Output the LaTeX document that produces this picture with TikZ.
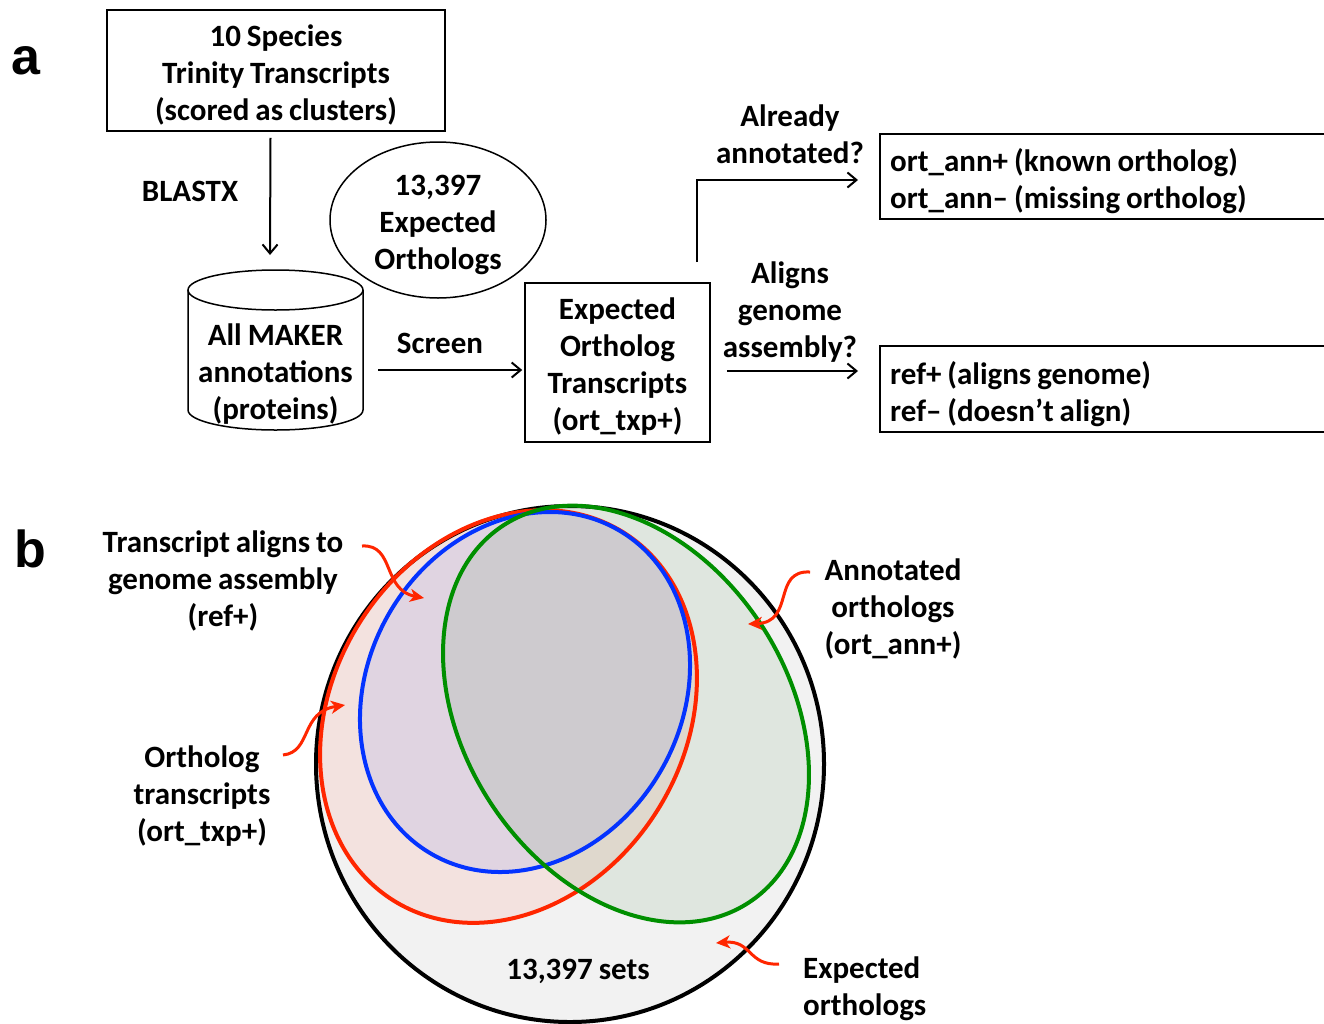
\documentclass[tikz,border=0pt]{standalone}
\usepackage{fontspec}
\setmainfont{Carlito}[WordSpace=0.85]
\newfontfamily\arialfont{Liberation Sans}
\usetikzlibrary{arrows.meta,shapes.geometric,calc}
\definecolor{vred}{RGB}{255,38,0}
\definecolor{vblue}{RGB}{4,51,255}
\definecolor{vgreen}{RGB}{0,143,0}
\definecolor{outerfill}{RGB}{242,242,242}
\definecolor{redfill}{RGB}{255,50,0}
\definecolor{greenfill}{RGB}{0,100,0}
\tikzset{
  box/.style={draw, line width=1.5pt, inner sep=0pt},
  arr/.style={line width=2pt, -{Straight Barb[length=9pt,width=15pt]}},
  rarr/.style={draw=vred, line width=3pt, -{Stealth[length=14pt,width=13pt,inset=4pt]}},
  lab/.style={align=center, inner sep=0pt},
  panel/.style={inner sep=0pt, font=\arialfont\bfseries\fontsize{52}{56}\selectfont},
  venn/.style={line width=4pt}
}
\begin{document}
\begin{tikzpicture}[x=1pt,y=-1pt, font=\fontsize{31}{37}\selectfont\bfseries]
\useasboundingbox (0,0) rectangle (1324,1023);

% ---------- panel a ----------
\node[panel] (la) at (26,61) {a};

\node[box, minimum width=338pt, minimum height=121pt] (src) at (276,70.5) {};
\node[lab] (srct) at (276,74.5) {10 Species\\Trinity Transcripts\\(scored as clusters)};

\node[draw, ellipse, line width=1.5pt, minimum width=216pt, minimum height=156pt,
  inner sep=0pt] (exp) at (438,220) {};
\node[lab] (expt) at (438,225) {13,397\\Expected\\Orthologs};

% cylinder
\draw[line width=1.5pt] (188,290) -- (188,410) arc[start angle=180, end angle=0, x radius=87.5, y radius=20] -- (363,290);
\draw[line width=1.5pt] (275.5,290) ellipse [x radius=87.5, y radius=20];
\node[lab, minimum width=175pt] (maker) at (275.5,374)
  {All MAKER\\annotations\\(proteins)};

\node[box, minimum width=185pt, minimum height=159pt] (otx) at (617.5,362.5) {};
\node[lab] (otxt) at (617.5,366.5) {Expected\\Ortholog\\Transcripts\\(ort\_txp+)};

\node[box, anchor=west, minimum width=452pt, minimum height=85pt] (ort) at (879,176.5) {};
\node[lab, anchor=west, align=left] (ortt) at (890,181.5)
  {ort\_ann+ (known ortholog)\\ort\_ann– (missing ortholog)};
\node[box, anchor=west, minimum width=452pt, minimum height=86pt] (ref) at (879,389) {};
\node[lab, anchor=west, align=left] (reft) at (890,394)
  {ref+ (aligns genome)\\ref– (doesn’t align)};

\node[lab] (lblast) at (190,191) {BLASTX};
\node[lab] (lscreen) at (440,343) {Screen};
\node[lab] (lann) at (790,134.5) {Already\\annotated?};
\node[lab] (lalign) at (790,312.5) {Aligns\\genome\\assembly?};

\coordinate (cyltop) at (270,255);
\draw[arr] ($(src.south)+(-5.5,6)$) -- (cyltop);
\draw[arr] (378,370) -- ($(otx.west)+(-2,7.5)$);
\coordinate (up0) at (697,262);
\draw[arr] (up0) |- ($(ort.west)+(-21,3.5)$);
\draw[arr] ($(otx.east)+(16,8.5)$) -- ($(ref.west)+(-21,-18)$);

% ---------- panel b ----------
\node[panel] (lb) at (30,549) {b};

\draw[venn, fill=outerfill] (570,764) ellipse [x radius=254, y radius=258];

\fill[redfill, fill opacity=0.08, shift={(508.5,716.5)}, rotate=-32] (0,0) ellipse [x radius=176, y radius=217];
\fill[vblue, fill opacity=0.08, shift={(525,692)}, rotate=-30] (0,0) ellipse [x radius=157, y radius=187];
\fill[greenfill, fill opacity=0.08, shift={(626,714)}, rotate=33] (0,0) ellipse [x radius=162, y radius=225];

\draw[venn, vred, shift={(508.5,716.5)}, rotate=-32] (0,0) ellipse [x radius=176, y radius=217];
\draw[venn, vblue, shift={(525,692)}, rotate=-30] (0,0) ellipse [x radius=157, y radius=187];
\draw[venn, vgreen, shift={(626,714)}, rotate=33] (0,0) ellipse [x radius=162, y radius=225];

\node[lab] (ltr) at (223,581) {Transcript aligns to\\genome assembly\\(ref+)};
\node[lab] (lort) at (202,796) {Ortholog\\transcripts\\(ort\_txp+)};
\node[lab] (lannb) at (893,609) {Annotated\\orthologs\\(ort\_ann+)};
\node[lab] (lsets) at (578,971) {13,397 sets};
\node[lab, anchor=west, align=left] (lexp) at (803,989) {Expected\\orthologs};

\coordinate (r1s) at (362,546); \coordinate (r1e) at (424,598);
\coordinate (r2s) at (283,755); \coordinate (r2e) at (345,705);
\coordinate (r3s) at (810,572); \coordinate (r3e) at (748,624);
\coordinate (r4s) at (779,964); \coordinate (r4e) at (716,943);
\draw[rarr] (r1s) .. controls (395,544) and (382,590) .. (r1e);
\draw[rarr] (r2s) .. controls (312,752) and (300,712) .. (r2e);
\draw[rarr] (r3s) .. controls (772,570) and (795,622) .. (r3e);
\draw[rarr] (r4s) .. controls (748,966) and (752,940) .. (r4e);
\end{tikzpicture}
\end{document}
